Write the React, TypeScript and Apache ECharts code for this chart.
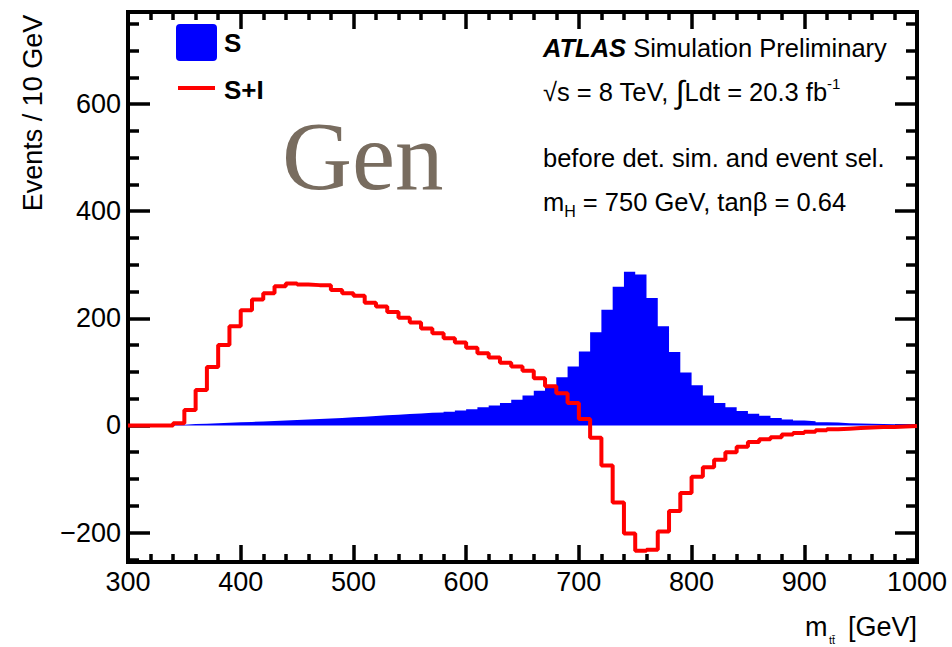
import React, { useEffect, useRef } from "react";
import * as echarts from "echarts";

// Histogram binning: 70 bins of 10 GeV from 300 to 1000 GeV
const BIN_START = 300;
const BIN_WIDTH = 10;

// Signal only (S), events per bin
const signal = [
  0, 0, 0, 0, 1.5, 2.5, 3.3, 4.2, 5, 5.8,
  6.6, 7.4, 8.3, 9.2, 10.1, 11, 12, 13, 14, 15.1,
  16.3, 17.5, 18.8, 20.1, 21.3, 22.5, 23.5, 24, 25.5, 28,
  30, 34, 37, 42, 48, 56, 65, 71, 90, 110,
  138, 174, 216, 259, 287, 282, 238, 185, 137, 99,
  75, 56, 42, 34, 27, 22, 18, 14, 11, 9,
  8, 6, 5.5, 4.3, 3.7, 3, 2.5, 2, 2, 1.5,
];

// Signal + interference (S+I), events per bin
const signalPlusInterference = [
  0, 0, 0, 0, 4, 29, 66, 109, 150, 185,
  215, 235, 247, 260, 265, 263, 262, 262, 253, 247,
  242, 229, 222, 212, 201, 192, 181, 172, 163, 155,
  145, 135, 127, 117, 110, 102, 88, 73, 60, 42,
  12, -23, -75, -144, -202, -234, -232, -198, -160, -126,
  -96, -78, -64, -50, -40, -31, -26, -22, -17, -14,
  -12, -9, -7, -6, -5, -4, -3, -3, -2, -1,
];

const X_MIN = 300;
const X_MAX = 1000;
const Y_MIN = -255;
const Y_MAX = 772;
const yMajorTicks = [-200, 0, 200, 400, 600];
const yMinorTicks = [
  -250, -150, -100, -50, 50, 100, 150, 250, 300, 350, 450, 500, 550, 650, 700, 750,
];

const SANS = '"Liberation Sans", Arial, Helvetica, sans-serif';
const SERIF = '"Liberation Serif", "Times New Roman", serif';

// Turn bin contents into step points: one point per lower bin edge plus the last upper edge
function toSteps(values: number[]): number[][] {
  const pts = values.map((v, i) => [BIN_START + i * BIN_WIDTH, v]);
  pts.push([BIN_START + values.length * BIN_WIDTH, values[values.length - 1]]);
  return pts;
}

const tickStyle = { color: "#000", width: 3.5 };

function xAxisDef(position: "bottom" | "top") {
  return {
    type: "value",
    position,
    min: X_MIN,
    max: X_MAX,
    interval: 100,
    axisLine: { show: false, onZero: false },
    axisTick: { show: true, inside: true, length: 17, lineStyle: tickStyle },
    minorTick: { show: true, splitNumber: 5, length: 8, lineStyle: tickStyle },
    splitLine: { show: false },
    minorSplitLine: { show: false },
    axisLabel: {
      show: position === "bottom",
      fontSize: 27,
      fontFamily: SANS,
      color: "#000",
      margin: 6,
      formatter: (v: number) => String(v),
    },
  };
}

function yAxisDef(position: "left" | "right", major: boolean) {
  return {
    type: "value",
    position,
    min: Y_MIN,
    max: Y_MAX,
    axisLine: { show: false, onZero: false },
    axisTick: {
      show: true,
      inside: true,
      length: major ? 22 : 11,
      customValues: major ? yMajorTicks : yMinorTicks,
      lineStyle: tickStyle,
    },
    splitLine: { show: false },
    axisLabel: {
      show: major && position === "left",
      customValues: yMajorTicks,
      fontSize: 27,
      fontFamily: SANS,
      color: "#000",
      margin: 7,
      formatter: (v: number) => String(v).replace("-", "\u2212"),
    },
  };
}

const option = {
  animation: false,
  backgroundColor: "#ffffff",
  grid: {
    left: 128,
    right: 35,
    top: 12,
    bottom: 85,
    show: true,
    borderColor: "#000",
    borderWidth: 4,
    backgroundColor: "transparent",
  },
  xAxis: [xAxisDef("bottom"), xAxisDef("top")],
  yAxis: [
    yAxisDef("left", true),
    yAxisDef("left", false),
    yAxisDef("right", true),
    yAxisDef("right", false),
  ],
  series: [
    {
      name: "S",
      type: "line",
      step: "end",
      data: toSteps(signal),
      showSymbol: false,
      symbol: "none",
      lineStyle: { opacity: 0, width: 0 },
      areaStyle: { color: "#0000ff", opacity: 1 },
      z: 2,
    },
    {
      name: "S+I",
      type: "line",
      step: "end",
      data: toSteps(signalPlusInterference),
      showSymbol: false,
      symbol: "none",
      lineStyle: { color: "#ff0000", width: 4 },
      z: 3,
    },
  ],
  graphic: [
    // legend
    {
      type: "rect",
      shape: { x: 176, y: 24, width: 41, height: 37, r: 4 },
      style: { fill: "#0000ff" },
    },
    {
      type: "text",
      x: 224,
      y: 43,
      style: {
        text: "S",
        fontSize: 26,
        fontWeight: "bold",
        fontFamily: SANS,
        fill: "#000",
        verticalAlign: "middle",
      },
    },
    {
      type: "line",
      shape: { x1: 178, y1: 88, x2: 215, y2: 88 },
      style: { stroke: "#ff0000", lineWidth: 4 },
    },
    {
      type: "text",
      x: 224,
      y: 90,
      style: {
        text: "S+I",
        fontSize: 26,
        fontWeight: "bold",
        fontFamily: SANS,
        fill: "#000",
        verticalAlign: "middle",
      },
    },
    // stage label
    {
      type: "text",
      x: 282,
      y: 156,
      style: {
        text: "Gen",
        fontSize: 97,
        fontFamily: SERIF,
        fill: "#786c5f",
        verticalAlign: "middle",
      },
    },
    // ATLAS block
    {
      type: "text",
      x: 543,
      y: 48,
      style: {
        text: "{b|ATLAS}{a| Simulation Preliminary}",
        verticalAlign: "middle",
        rich: {
          b: { fontSize: 25.5, fontWeight: "bold", fontStyle: "italic", fontFamily: SANS, fill: "#000" },
          a: { fontSize: 25.5, fontFamily: SANS, fill: "#000" },
        },
      },
    },
    {
      type: "text",
      x: 543,
      y: 92,
      style: {
        text: "{a|\u221As = 8 TeV, }{i|\u222B}{a|Ldt = 20.3 fb}{s|-1}",
        verticalAlign: "middle",
        rich: {
          a: { fontSize: 25.5, lineHeight: 32, fontFamily: SANS, fill: "#000" },
          i: { fontSize: 32, lineHeight: 32, fontFamily: SANS, fill: "#000" },
          s: { fontSize: 15, lineHeight: 15, verticalAlign: "top", fontFamily: SANS, fill: "#000" },
        },
      },
    },
    {
      type: "text",
      x: 543,
      y: 158,
      style: {
        text: "before det. sim. and event sel.",
        fontSize: 25.5,
        fontFamily: SANS,
        fill: "#000",
        verticalAlign: "middle",
      },
    },
    {
      type: "text",
      x: 543,
      y: 202,
      style: {
        text: "{a|m}{s|H}{a| = 750 GeV, tan\u03B2 = 0.64}",
        verticalAlign: "middle",
        rich: {
          a: { fontSize: 25.5, lineHeight: 34, fontFamily: SANS, fill: "#000" },
          s: { fontSize: 16, lineHeight: 16, verticalAlign: "bottom", fontFamily: SANS, fill: "#000" },
        },
      },
    },
    // axis titles
    {
      type: "text",
      x: 33,
      y: 113,
      rotation: Math.PI / 2,
      style: {
        text: "Events / 10 GeV",
        fontSize: 27,
        fontFamily: SANS,
        fill: "#000",
        align: "center",
        verticalAlign: "middle",
      },
    },
    {
      type: "text",
      x: 917,
      y: 627,
      style: {
        text: "[GeV]",
        fontSize: 27,
        fontFamily: SANS,
        fill: "#000",
        align: "right",
        verticalAlign: "middle",
      },
    },
    {
      type: "text",
      x: 805,
      y: 627,
      style: {
        text: "m",
        fontSize: 27,
        fontFamily: SANS,
        fill: "#000",
        verticalAlign: "middle",
      },
    },
    {
      type: "text",
      x: 829,
      y: 640,
      style: {
        text: "t\u0074\u0304",
        fontSize: 11,
        fontFamily: SANS,
        fill: "#000",
        verticalAlign: "middle",
      },
    },
  ],
};

export default function App() {
  const ref = useRef<HTMLDivElement>(null);
  useEffect(() => {
    const chart = echarts.init(ref.current as HTMLDivElement, null, { renderer: "svg" });
    chart.setOption(option as any);
    return () => chart.dispose();
  }, []);
  return (
    <div
      ref={ref}
      style={{ position: "fixed", left: 0, top: 0, width: 952, height: 647, background: "#fff" }}
    />
  );
}
